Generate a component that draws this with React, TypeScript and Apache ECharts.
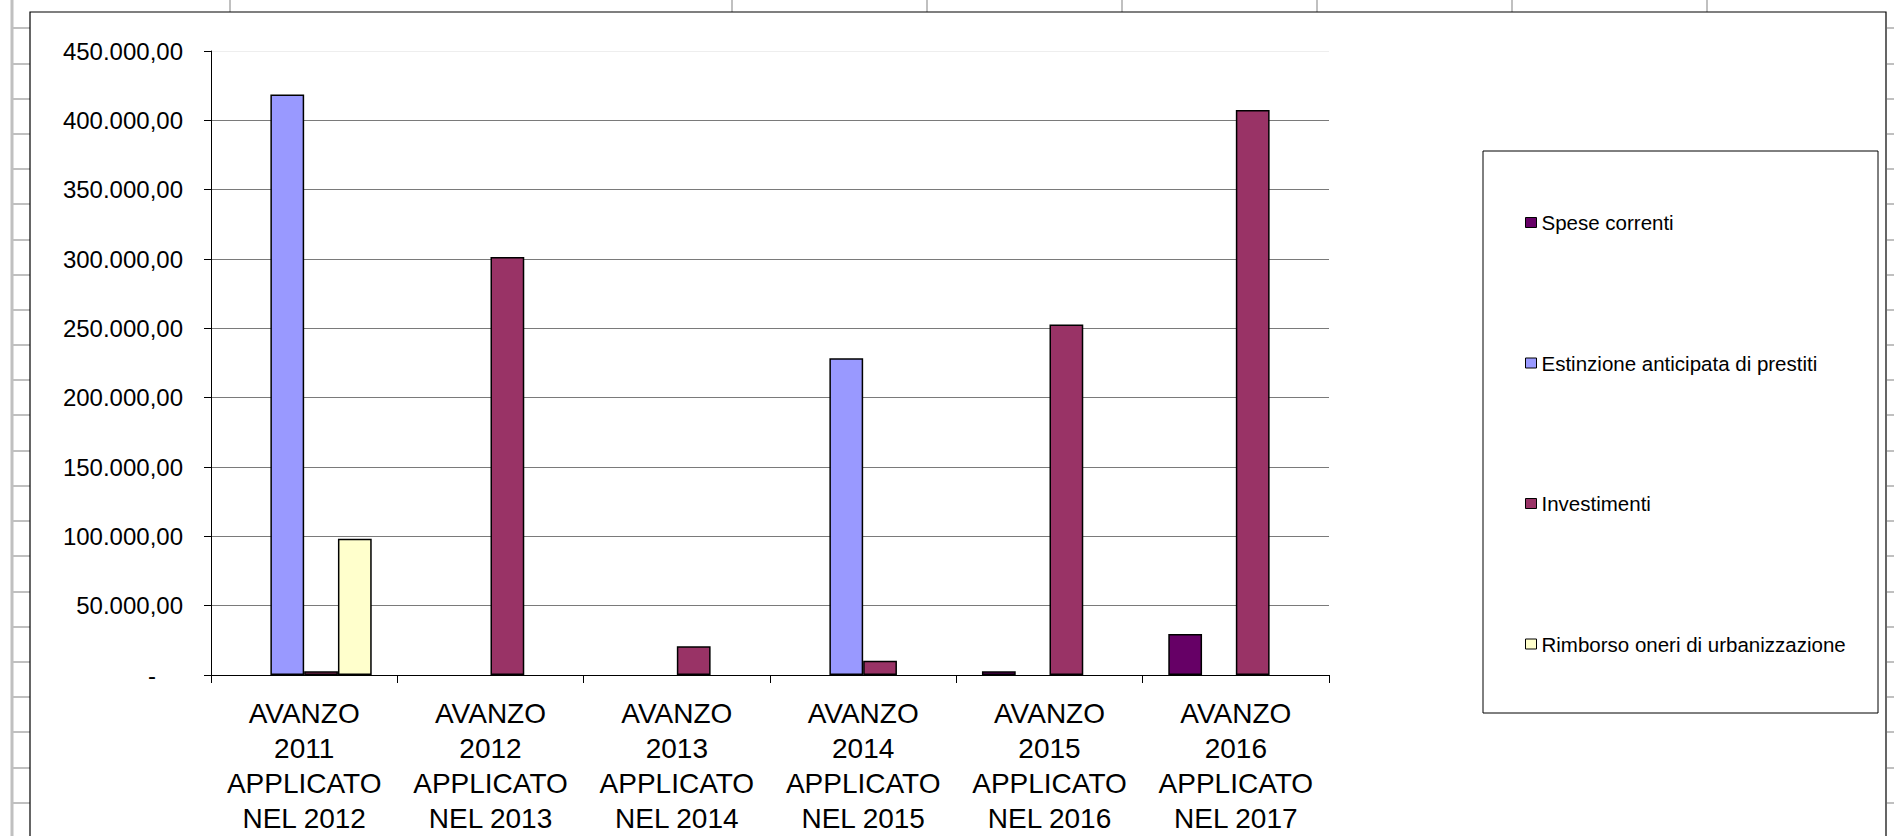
import React, { useEffect, useRef } from "react";
import * as echarts from "echarts";

const categories = [
  "AVANZO\n2011\nAPPLICATO\nNEL 2012",
  "AVANZO\n2012\nAPPLICATO\nNEL 2013",
  "AVANZO\n2013\nAPPLICATO\nNEL 2014",
  "AVANZO\n2014\nAPPLICATO\nNEL 2015",
  "AVANZO\n2015\nAPPLICATO\nNEL 2016",
  "AVANZO\n2016\nAPPLICATO\nNEL 2017",
];

const seriesNames = [
  "Spese correnti",
  "Estinzione anticipata di prestiti",
  "Investimenti",
  "Rimborso oneri di urbanizzazione",
];

const speseCorrenti = [null, null, null, null, 2700, 29600];
const estinzione = [418700, null, null, 228500, null, null];
const investimenti = [2700, 301400, 20800, 10300, 252800, 407400];
const rimborso = [98200, null, null, null, null, null];

const seriesColors = ["#660066", "#9999FF", "#993366", "#FFFFCC"];

const yMin = 0;
const yMax = 450000;
const yStep = 50000;

const FONT = "'Liberation Sans', Arial, sans-serif";

function fmtIt(v: number): string {
  const fixed = Math.abs(v).toFixed(2);
  const [intPart, dec] = fixed.split(".");
  const grouped = intPart.replace(/\B(?=(\d{3})+(?!\d))/g, ".");
  return (v < 0 ? "-" : "") + grouped + "," + dec;
}

export default function App() {
  const ref = useRef<HTMLDivElement>(null);

  useEffect(() => {
    document.body.style.margin = "0";
    if (!ref.current) return;
    const chart = echarts.init(ref.current, null, { renderer: "svg" });

    const gridColors: string[] = [];
    const nLines = Math.round((yMax - yMin) / yStep) + 1;
    for (let i = 0; i < nLines; i++) {
      gridColors.push(i === nLines - 1 ? "#eeeeee" : "#7a7a7a");
    }

    const rowYs: number[] = [];
    for (let y = 28.3; y < 836; y += 35.2) rowYs.push(Math.round(y));
    const colXs = [230, 732, 927, 1122, 1317, 1512, 1707];

    const sheetLines: any[] = [];
    sheetLines.push({
      type: "line",
      shape: { x1: 12, y1: 0, x2: 12, y2: 836 },
      style: { stroke: "#c0c0c0", lineWidth: 3 },
      silent: true,
    });
    rowYs.forEach((y) => {
      sheetLines.push({
        type: "line",
        shape: { x1: 13, y1: y, x2: 30, y2: y },
        style: { stroke: "#c0c0c0", lineWidth: 2 },
        silent: true,
      });
      sheetLines.push({
        type: "line",
        shape: { x1: 1887, y1: y, x2: 1894, y2: y },
        style: { stroke: "#c0c0c0", lineWidth: 2 },
        silent: true,
      });
    });
    colXs.forEach((x) => {
      sheetLines.push({
        type: "line",
        shape: { x1: x, y1: 0, x2: x, y2: 12 },
        style: { stroke: "#c0c0c0", lineWidth: 2 },
        silent: true,
      });
    });

    const dataSets = [speseCorrenti, estinzione, investimenti, rimborso];

    chart.setOption({
      animation: false,
      backgroundColor: "#ffffff",
      textStyle: { fontFamily: FONT },
      graphic: [
        ...sheetLines,
        {
          type: "rect",
          shape: { x: 30, y: 12, width: 1856, height: 900 },
          style: { fill: "none", stroke: "#000", lineWidth: 1.2 },
          silent: true,
        },
        {
          type: "rect",
          shape: { x: 1483, y: 151, width: 395, height: 562 },
          style: { fill: "none", stroke: "#000", lineWidth: 1 },
          silent: true,
        },
      ],
      grid: {
        left: 211,
        top: 51,
        right: 1894 - 1329,
        bottom: 836 - 677,
        containLabel: false,
      },
      legend: {
        orient: "vertical",
        left: 1520,
        top: 207,
        itemWidth: 11,
        itemHeight: 10,
        itemGap: 119.5,
        icon: "rect",
        data: seriesNames,
        itemStyle: { borderColor: "#000", borderWidth: 1 },
        textStyle: {
          fontFamily: FONT,
          fontSize: 20.5,
          lineHeight: 20,
          color: "#000",
        },
      },
      xAxis: {
        type: "category",
        data: categories,
        axisLine: { show: true, lineStyle: { color: "#000", width: 1 } },
        axisTick: {
          show: true,
          alignWithLabel: false,
          length: 8,
          lineStyle: { color: "#000" },
        },
        axisLabel: {
          interval: 0,
          margin: 21,
          fontFamily: FONT,
          fontSize: 28,
          lineHeight: 35,
          color: "#000",
        },
        splitLine: { show: false },
      },
      yAxis: {
        type: "value",
        min: yMin,
        max: yMax,
        interval: yStep,
        axisLine: { show: true, lineStyle: { color: "#000", width: 1 } },
        axisTick: { show: true, length: 7, lineStyle: { color: "#000" } },
        axisLabel: {
          margin: 28,
          fontFamily: FONT,
          fontSize: 24,
          color: "#000",
          formatter: (v: number) => (v === 0 ? "{d|-}" : fmtIt(v)),
          rich: {
            d: {
              fontFamily: FONT,
              fontSize: 24,
              color: "#000",
              padding: [0, 27, 0, 0],
            },
          },
        },
        splitLine: {
          show: true,
          lineStyle: { color: gridColors, width: 1 },
        },
      },
      series: seriesNames.map((name, i) => ({
        name,
        type: "bar",
        data: dataSets[i],
        barGap: "0%",
        barCategoryGap: "27.5%",
        itemStyle: {
          color: seriesColors[i],
          borderColor: "#000",
          borderWidth: 1.5,
        },
      })),
    });

    return () => {
      chart.dispose();
    };
  }, []);

  return <div ref={ref} style={{ width: 1894, height: 836 }} />;
}
